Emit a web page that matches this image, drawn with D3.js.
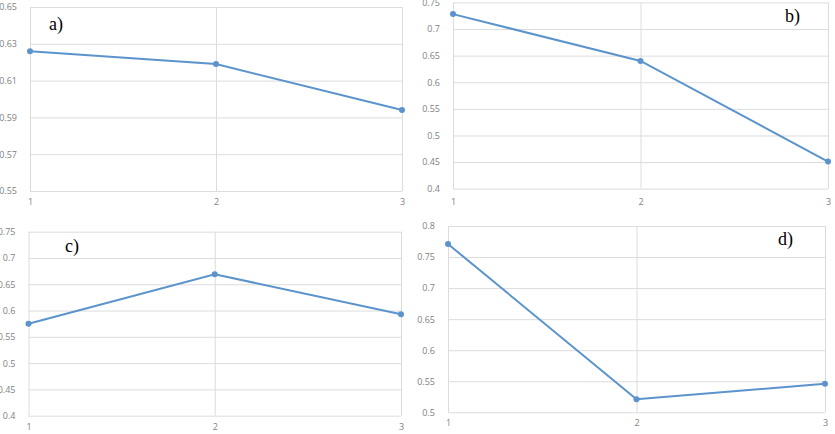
<!DOCTYPE html>
<html>
<head>
<meta charset="utf-8">
<script src="https://cdn.jsdelivr.net/npm/d3@7"></script>
<style>
  html, body { margin: 0; padding: 0; background: #fff; }
  svg { display: block; }
  .tick text { fill: #7f7f7f; font-family: "Open Sans", "Liberation Sans", sans-serif; font-size: 9px; }
  .panel-label { font-family: "Liberation Serif", "DejaVu Serif", serif; font-size: 18px; fill: #000; }
</style>
</head>
<body>
<div id="chart"></div>
<script>
// ---- data ----
const categories = [1, 2, 3];

const seriesA = [0.626, 0.619, 0.594];
const seriesB = [0.728, 0.640, 0.451];
const seriesC = [0.575, 0.669, 0.593];
const seriesD = [0.771, 0.521, 0.546];

const ticksA = [0.55, 0.57, 0.59, 0.61, 0.63, 0.65];
const ticksB = [0.4, 0.45, 0.5, 0.55, 0.6, 0.65, 0.7, 0.75];
const ticksC = [0.4, 0.45, 0.5, 0.55, 0.6, 0.65, 0.7, 0.75];
const ticksD = [0.5, 0.55, 0.6, 0.65, 0.7, 0.75, 0.8];

const panelNames = ["a)", "b)", "c)", "d)"];

// ---- layout ----
const W = 835, H = 434;
const lineColor = "#5b93cc";
const gridColor = "#dcdcdc";

const panels = [
  { name: panelNames[0], values: seriesA, ticks: ticksA, x0: 30, x1: 402, yTop: 7, yBot: 191, lx: 49, ly: 30, labelY: 204 },
  { name: panelNames[1], values: seriesB, ticks: ticksB, x0: 453, x1: 828, yTop: 2.4, yBot: 188.7, lx: 785, ly: 22, labelY: 204 },
  { name: panelNames[2], values: seriesC, ticks: ticksC, x0: 28.5, x1: 401, yTop: 231.7, yBot: 415.7, lx: 65, ly: 252, labelY: 429 },
  { name: panelNames[3], values: seriesD, ticks: ticksD, x0: 448, x1: 825, yTop: 226, yBot: 412.3, lx: 778, ly: 245, labelY: 425 }
];

const svg = d3.select("#chart").append("svg")
  .attr("width", W)
  .attr("height", H);

panels.forEach(p => {
  const g = svg.append("g");

  const x = d3.scalePoint()
    .domain(categories)
    .range([p.x0, p.x1]);

  const y = d3.scaleLinear()
    .domain(d3.extent(p.ticks))
    .range([p.yBot, p.yTop]);

  // Horizontal grid
  g.append("g")
    .attr("transform", `translate(${p.x0},0)`)
    .call(d3.axisLeft(y).tickValues(p.ticks).tickSize(-(p.x1 - p.x0)).tickFormat(""))
    .call(a => a.select(".domain").remove())
    .call(a => a.selectAll("line").attr("stroke", gridColor));

  // Vertical grid
  g.append("g")
    .attr("transform", `translate(0,${p.yBot})`)
    .call(d3.axisBottom(x).tickSize(-(p.yBot - p.yTop)).tickFormat(""))
    .call(a => a.select(".domain").remove())
    .call(a => a.selectAll("line").attr("stroke", gridColor));

  // Y tick labels
  g.append("g")
    .attr("transform", `translate(${p.x0 - 10},0)`)
    .call(d3.axisLeft(y).tickValues(p.ticks).tickSize(0).tickFormat(d3.format("")))
    .call(a => a.select(".domain").remove());

  // X tick labels
  g.append("g")
    .attr("transform", `translate(0,${p.labelY - 5})`)
    .call(d3.axisBottom(x).tickSize(0).tickPadding(0))
    .call(a => a.select(".domain").remove());

  // Line
  const pts = categories.map((c, i) => [x(c), y(p.values[i])]);
  g.append("path")
    .datum(pts)
    .attr("fill", "none")
    .attr("stroke", lineColor)
    .attr("stroke-width", 2)
    .attr("d", d3.line());

  g.selectAll(".dot").data(pts).enter()
    .append("circle")
    .attr("cx", d => d[0])
    .attr("cy", d => d[1])
    .attr("r", 3)
    .attr("fill", lineColor);

  // Panel label
  g.append("text")
    .attr("class", "panel-label")
    .attr("x", p.lx)
    .attr("y", p.ly)
    .text(p.name);
});
</script>
</body>
</html>
